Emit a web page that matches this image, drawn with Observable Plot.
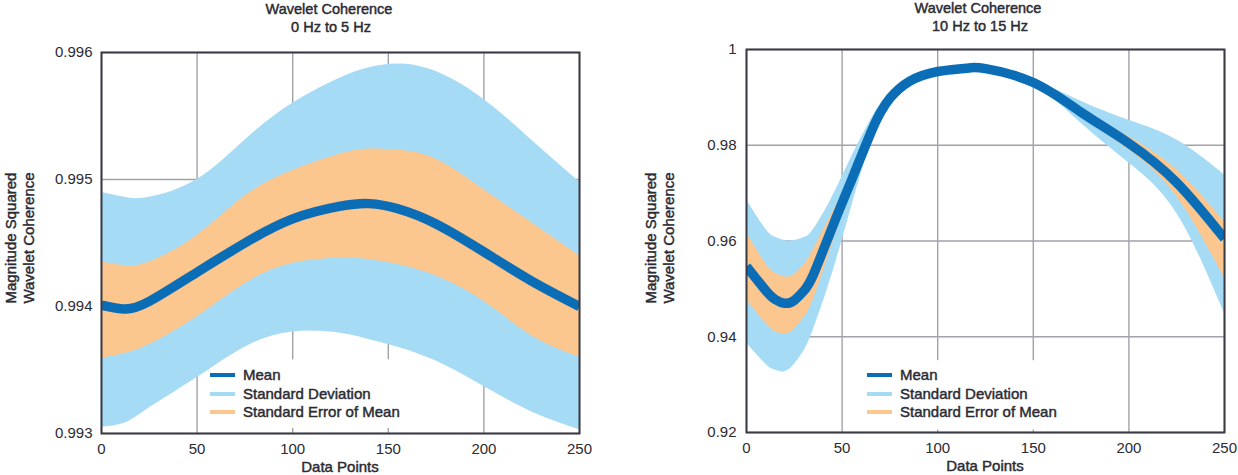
<!DOCTYPE html>
<html>
<head>
<meta charset="utf-8">
<script src="https://cdn.jsdelivr.net/npm/d3@7"></script>
<script src="https://cdn.jsdelivr.net/npm/@observablehq/plot@0.6"></script>
<style>
  html, body { margin: 0; padding: 0; background: #fff; }
  #root { position: relative; width: 1238px; height: 475px; overflow: hidden; font-family: "Liberation Sans", Arial, sans-serif; color: #2b2b33; }
  .abs { position: absolute; white-space: nowrap; }
  .title { font-size: 14.5px; text-align: center; transform: translateX(-50%); -webkit-text-stroke: 0.45px #2b2b33; }
  .ylab { font-size: 15px; transform: translate(-50%, -50%) rotate(-90deg); -webkit-text-stroke: 0.45px #2b2b33; }
  .xlab { font-size: 15px; transform: translate(-50%, -50%); -webkit-text-stroke: 0.45px #2b2b33; }
  .leg { font-size: 15px; -webkit-text-stroke: 0.45px #2b2b33; line-height: 18.5px; }
  .leg .row { display: flex; align-items: center; height: 18.5px; }
  .leg .sw { width: 25px; height: 4px; margin-right: 8px; }
  svg text { -webkit-text-stroke: 0.45px #2b2b33; }
</style>
</head>
<body>
<div id="root"></div>
<script>
// ---------- data ----------
const xTicks = [0, 50, 100, 150, 200, 250];

// Left panel: 0 Hz to 5 Hz
const xLeft      = [0, 12, 25, 50, 75, 100, 125, 140, 155, 175, 200, 225, 250];
const meanLeft   = [0.99401, 0.99398, 0.99404, 0.99427, 0.99450, 0.99469, 0.99479, 0.99481, 0.99477, 0.99465, 0.99443, 0.99420, 0.99400];
const sdUpLeft   = [0.99490, 0.99486, 0.99486, 0.99500, 0.99531, 0.99560, 0.99580, 0.99588, 0.99591, 0.99585, 0.99563, 0.99531, 0.99498];
const sdLoLeft   = [0.99305, 0.99308, 0.99320, 0.99344, 0.99368, 0.99380, 0.99379, 0.99374, 0.99368, 0.99357, 0.99337, 0.99317, 0.99303];
const seUpLeft   = [0.99435, 0.99432, 0.99435, 0.99456, 0.99487, 0.99507, 0.99520, 0.99524, 0.99523, 0.99516, 0.99492, 0.99466, 0.99440];
const seLoLeft   = [0.99359, 0.99363, 0.99370, 0.99392, 0.99418, 0.99434, 0.99438, 0.99437, 0.99433, 0.99424, 0.99404, 0.99377, 0.99360];
const yTicksLeft = [0.993, 0.994, 0.995, 0.996];
const yTickLabelsLeft = ["0.993", "0.994", "0.995", "0.996"];

// Right panel: 10 Hz to 15 Hz
const xRight     = [0, 10, 15, 20, 25, 30, 35, 45, 55, 65, 70, 75, 85, 100, 115, 125, 150, 175, 200, 225, 250];
const meanRight  = [0.9547, 0.9497, 0.9478, 0.9470, 0.9476, 0.9496, 0.9530, 0.9630, 0.9728, 0.9826, 0.9868, 0.9898, 0.9933, 0.9954, 0.9961, 0.9960, 0.9931, 0.9869, 0.9804, 0.9722, 0.9605];
const sdUpRight  = [0.9686, 0.9625, 0.9608, 0.9601, 0.9601, 0.9607, 0.9624, 0.9693, 0.9776, 0.9853, 0.9884, 0.9903, 0.9936, 0.9957, 0.9963, 0.9962, 0.9936, 0.9892, 0.9852, 0.9811, 0.9738];
const sdLoRight  = [0.9387, 0.9343, 0.9330, 0.9327, 0.9342, 0.9370, 0.9415, 0.9533, 0.9672, 0.9805, 0.9855, 0.9891, 0.9930, 0.9951, 0.9959, 0.9958, 0.9926, 0.9846, 0.9763, 0.9658, 0.9449];
const seUpRight  = [0.9617, 0.9553, 0.9533, 0.9525, 0.9530, 0.9550, 0.9582, 0.9660, 0.9738, 0.9832, 0.9872, 0.9901, 0.9935, 0.9956, 0.9962, 0.9961, 0.9933, 0.9876, 0.9818, 0.9749, 0.9640];
const seLoRight  = [0.9478, 0.9428, 0.9411, 0.9405, 0.9415, 0.9440, 0.9478, 0.9595, 0.9718, 0.9820, 0.9864, 0.9895, 0.9931, 0.9952, 0.9960, 0.9959, 0.9929, 0.9861, 0.9790, 0.9693, 0.9522];
const yTicksRight = [0.92, 0.94, 0.96, 0.98, 1];
const yTickLabelsRight = ["0.92", "0.94", "0.96", "0.98", "1"];

const legendLabels = ["Mean", "Standard Deviation", "Standard Error of Mean"];

// ---------- styles ----------
const C = { mean: "#0a6db5", sd: "#a6dbf6", se: "#fcc68f", grid: "#a2a2aa", frame: "#3a3a44", text: "#2b2b33" };
const font = { fontFamily: "'Liberation Sans', Arial, sans-serif", fontSize: "15px", color: C.text, background: "transparent", overflow: "visible" };

function rows(xs, mean, sdUp, sdLo, seUp, seLo) {
  return xs.map((x, i) => ({ x, mean: mean[i], sdUp: sdUp[i], sdLo: sdLo[i], seUp: seUp[i], seLo: seLo[i] }));
}

function panel(opts) {
  const data = rows(...opts.series);
  const fmt = d => opts.tickLabels[opts.ticks.indexOf(d)];
  const curve = "natural";
  return Plot.plot({
    width: opts.width, height: 475,
    marginLeft: opts.ml, marginRight: opts.mr, marginTop: opts.mt, marginBottom: opts.mb,
    style: font,
    x: { domain: [0, 250] },
    y: { domain: opts.domain },
    marks: [
      Plot.gridX(xTicks, { stroke: C.grid, strokeOpacity: 1, strokeWidth: 1.4 }),
      Plot.gridY(opts.ticks, { stroke: C.grid, strokeOpacity: 1, strokeWidth: 1.4 }),
      Plot.rect([opts.legendBox], { x1: "x1", x2: "x2", y1: "y1", y2: "y2", fill: "white" }),
      Plot.areaY(data, { x: "x", y1: "sdLo", y2: "sdUp", fill: C.sd, curve }),
      Plot.areaY(data, { x: "x", y1: "seLo", y2: "seUp", fill: C.se, curve }),
      Plot.line(data, { x: "x", y: "mean", stroke: C.mean, strokeWidth: 9.5, curve, strokeLinecap: "butt", clip: true }),
      Plot.frame({ stroke: C.frame, strokeWidth: 2 }),
      Plot.axisX(xTicks, { tickSize: 0, tickPadding: 10, label: null, fill: C.text, fontSize: 15 }),
      Plot.axisY(opts.ticks, { tickSize: 0, tickPadding: opts.yPad, label: null, tickFormat: fmt, fill: C.text, fontSize: 15 })
    ]
  });
}

const root = document.getElementById("root");

function place(el, left, top) {
  el.style.position = "absolute"; el.style.left = left + "px"; el.style.top = top + "px";
  root.appendChild(el);
}

const left = panel({
  width: 600, ml: 101, mr: 21, mt: 52, mb: 42,
  domain: [0.993, 0.996], ticks: yTicksLeft, tickLabels: yTickLabelsLeft, yPad: 9,
  series: [xLeft, meanLeft, sdUpLeft, sdLoLeft, seUpLeft, seLoLeft],
  legendBox: { x1: 54, x2: 172, y1: 0.99304, y2: 0.99358 }
});
place(left, 0, 0);

const right = panel({
  width: 618, ml: 126, mr: 14, mt: 49, mb: 43,
  domain: [0.92, 1], ticks: yTicksRight, tickLabels: yTickLabelsRight, yPad: 10,
  series: [xRight, meanRight, sdUpRight, sdLoRight, seUpRight, seLoRight],
  legendBox: { x1: 60, x2: 193, y1: 0.9205, y2: 0.935 }
});
place(right, 620, 0);

// ---------- text: titles, axis labels, legends ----------
function addText(cls, text, x, y) {
  const d = document.createElement("div");
  d.className = "abs " + cls;
  d.textContent = text;
  d.style.left = x + "px"; d.style.top = y + "px";
  root.appendChild(d);
  return d;
}
addText("title", "Wavelet Coherence", 329, 1);
addText("title", "0 Hz to 5 Hz", 331, 19);
addText("title", "Wavelet Coherence", 978, 0);
addText("title", "10 Hz to 15 Hz", 980, 18);

addText("ylab", "Magnitude Squared", 10, 238);
addText("ylab", "Wavelet Coherence", 28, 238);
addText("ylab", "Magnitude Squared", 650, 238);
addText("ylab", "Wavelet Coherence", 668, 238);

addText("xlab", "Data Points", 340, 466);
addText("xlab", "Data Points", 985, 465);

function legend(x, y) {
  const box = document.createElement("div");
  box.className = "abs leg";
  box.style.left = x + "px"; box.style.top = y + "px";
  const cols = [C.mean, C.sd, C.se];
  legendLabels.forEach((lab, i) => {
    const r = document.createElement("div"); r.className = "row";
    const s = document.createElement("div"); s.className = "sw"; s.style.background = cols[i];
    const t = document.createElement("span"); t.textContent = lab;
    r.appendChild(s); r.appendChild(t); box.appendChild(r);
  });
  root.appendChild(box);
}
legend(210, 366);
legend(867, 366);
</script>
</body>
</html>
